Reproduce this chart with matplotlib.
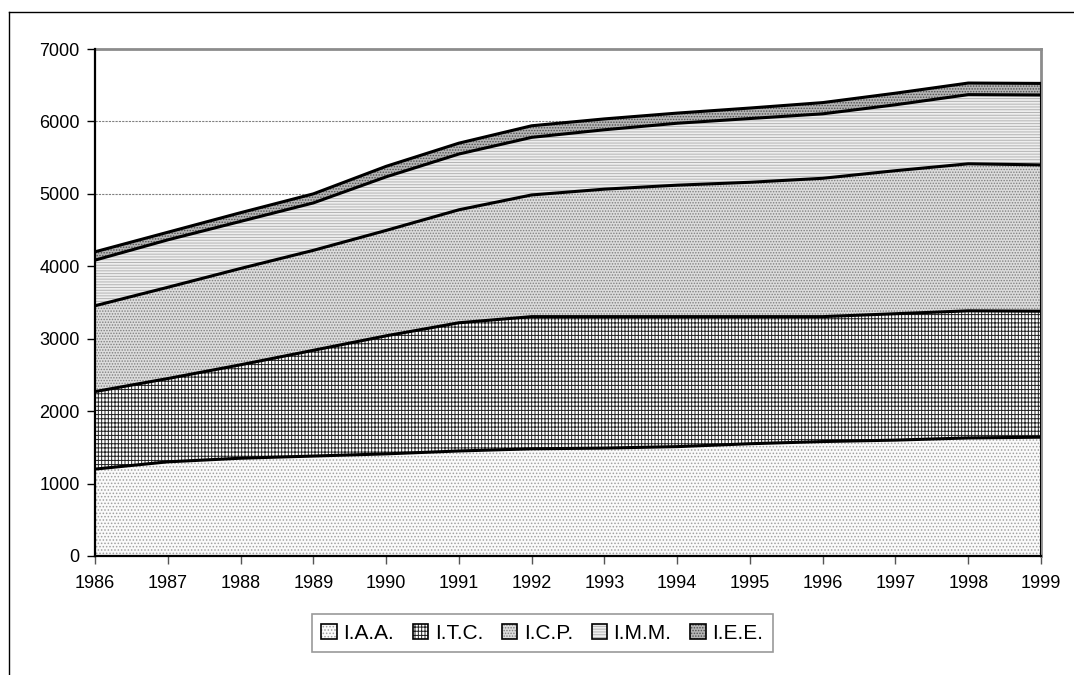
import numpy as np
import matplotlib.pyplot as plt
from matplotlib.patches import Patch
from matplotlib.lines import Line2D

plt.rcParams['font.family'] = ['Liberation Sans', 'DejaVu Sans']
plt.rcParams['hatch.linewidth'] = 0.7

# Data per institute (stacked)
years = [1986, 1987, 1988, 1989, 1990, 1991, 1992, 1993, 1994, 1995, 1996, 1997, 1998, 1999]
iaa = [1200, 1300, 1350, 1380, 1410, 1450, 1480, 1490, 1510, 1550, 1580, 1600, 1630, 1640]
itc = [1070, 1150, 1290, 1460, 1630, 1770, 1825, 1815, 1795, 1755, 1725, 1745, 1755, 1740]
icp = [1185, 1260, 1330, 1380, 1455, 1560, 1680, 1760, 1815, 1855, 1910, 1975, 2030, 2020]
imm = [630, 655, 650, 655, 740, 770, 795, 820, 855, 880, 890, 910, 955, 965]
iee = [115, 105, 120, 125, 145, 150, 160, 150, 140, 145, 155, 160, 160, 160]
labels = ['I.A.A.', 'I.T.C.', 'I.C.P.', 'I.M.M.', 'I.E.E.']

# fill styles: (facecolor, hatch, hatch colour)
styles = [
    ('#fafafa', '.....', '#a0a0a0'),
    ('white', '|||||----', '#222222'),
    ('#dcdcdc', '......', '#808080'),
    ('#eeeeee', '------', '#b4b4b4'),
    ('#b4b4b4', '......', '#505050'),
]

x = np.array(years)
series = np.array([iaa, itc, icp, imm, iee], dtype=float)
tops = np.cumsum(series, axis=0)

fig = plt.figure(figsize=(10.74, 6.75), dpi=100)
ax = fig.add_axes([0.0885, 0.1763, 0.8808, 0.7511])

ax.set_axisbelow(True)
ax.yaxis.grid(True, linestyle=(0, (2, 1)), color='#808080', linewidth=0.8)

bottom = np.zeros(len(x))
handles = []
for top, (fc, h, hc), lab in zip(tops, styles, labels):
    ax.fill_between(x, bottom, top, facecolor=fc, hatch=h, edgecolor=hc,
                    linewidth=0, zorder=2)
    ax.plot(x, top, color='black', linewidth=2.2, zorder=3, solid_joinstyle='round')
    handles.append((Patch(facecolor=fc, hatch=h, edgecolor=hc, linewidth=0),
                    Patch(facecolor='none', edgecolor='black', linewidth=1.2)))
    bottom = top

ax.plot([x[-1], x[-1]], [0, tops[-1][-1]], color='black', linewidth=2.2, zorder=3)

ax.set_xlim(1986, 1999)
ax.set_ylim(0, 7000)
ax.set_xticks(years)
ax.set_yticks(range(0, 7001, 1000))
ax.tick_params(labelsize=13, length=6, width=1, color='#555555', pad=8)
ax.tick_params(axis='y', colors='black', pad=5)

for side in ('left', 'bottom'):
    ax.spines[side].set_linewidth(1.6)
    ax.spines[side].set_color('black')
    ax.spines[side].set_zorder(4)
for side in ('top', 'right'):
    ax.spines[side].set_linewidth(2)
    ax.spines[side].set_color('#8c8c8c')

leg = fig.legend(handles, labels, loc='center', bbox_to_anchor=(0.505, 0.062),
                 ncol=5, fontsize=15, frameon=True, fancybox=False,
                 handlelength=0.75, handleheight=0.75, handletextpad=0.3,
                 columnspacing=0.9, borderpad=0.45, borderaxespad=0)
leg.get_frame().set_edgecolor('#808080')
leg.get_frame().set_linewidth(1.2)

# outer chart frame
fig.add_artist(Line2D([0.0084, 0.0084], [0, 0.982], color='black', linewidth=1))
fig.add_artist(Line2D([0.0084, 1], [0.982, 0.982], color='black', linewidth=1))

fig.savefig('out.png', dpi=100)
